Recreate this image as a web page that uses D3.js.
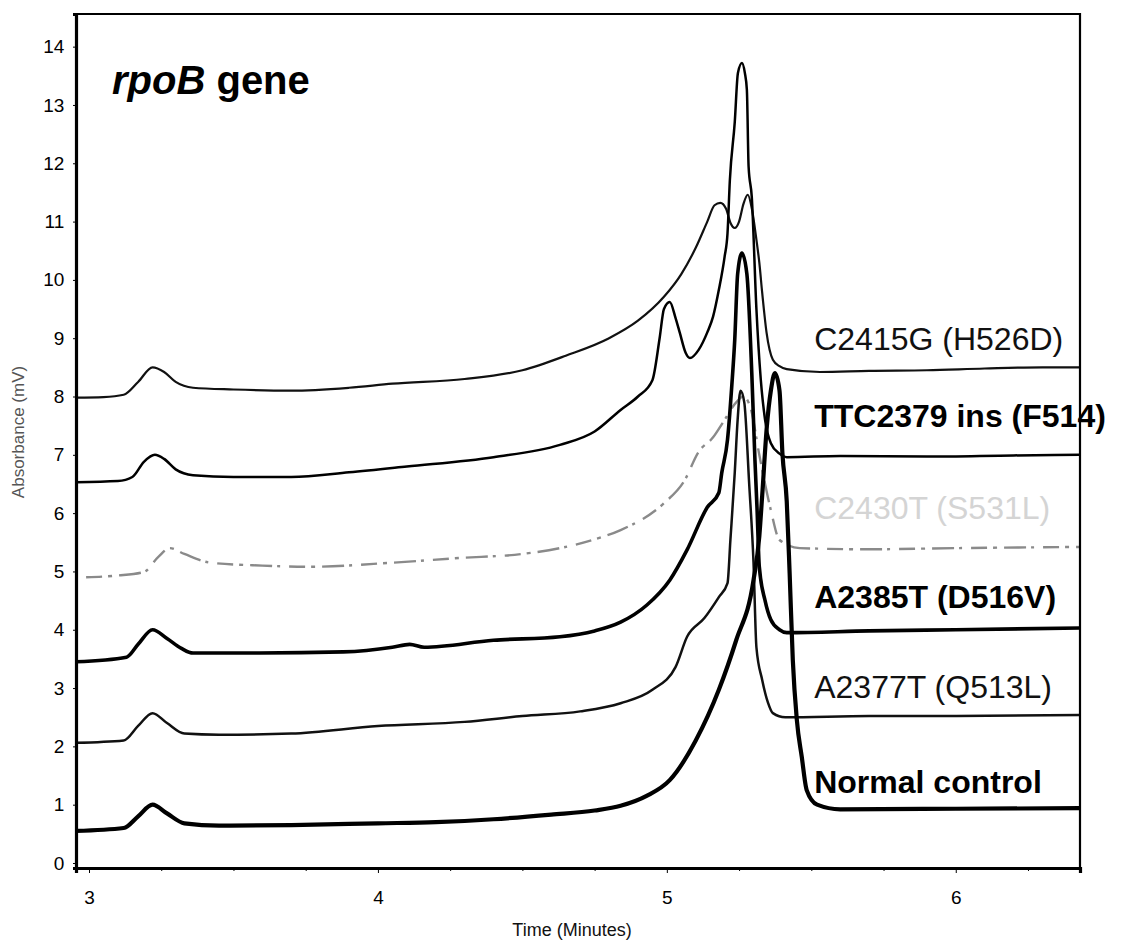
<!DOCTYPE html>
<html>
<head>
<meta charset="utf-8">
<script src="https://cdn.jsdelivr.net/npm/d3@7"></script>
<style>
  body { margin: 0; background: #fff; }
  svg { display: block; font-family: "Liberation Sans", Arial, sans-serif; }
</style>
</head>
<body>
<svg id="chart"></svg>
<script>
// chromatogram traces, [time (min), absorbance (mV)]
var normalControl = [[2.955,0.55],[3.12,0.6],[3.17,0.8],[3.22,1.0],[3.27,0.85],[3.33,0.68],[3.45,0.64],[3.7,0.65],[4.0,0.68],[4.2,0.7],[4.4,0.75],[4.6,0.83],[4.75,0.9],[4.84,0.98],[4.93,1.15],[5.01,1.42],[5.1,2.1],[5.18,2.97],[5.24,3.82],[5.3,4.85],[5.32,5.6],[5.33,6.3],[5.346,7.48],[5.36,8.1],[5.374,8.4],[5.39,8.1],[5.4,7.03],[5.415,6.2],[5.425,4.97],[5.436,3.48],[5.45,2.45],[5.467,1.82],[5.484,1.25],[5.52,1.0],[5.6,0.92],[6.0,0.93],[6.43,0.94]];
var a2377t = [[2.955,2.06],[3.12,2.1],[3.17,2.35],[3.22,2.57],[3.27,2.4],[3.33,2.22],[3.45,2.2],[3.7,2.22],[4.0,2.35],[4.3,2.42],[4.5,2.52],[4.7,2.6],[4.84,2.74],[4.95,2.97],[5.03,3.36],[5.07,3.88],[5.13,4.2],[5.18,4.56],[5.21,4.8],[5.22,5.54],[5.235,6.69],[5.245,7.6],[5.255,8.1],[5.268,7.9],[5.285,6.5],[5.3,5.15],[5.31,3.7],[5.33,3.14],[5.35,2.75],[5.367,2.57],[5.41,2.5],[5.7,2.52],[6.0,2.52],[6.43,2.54]];
var a2385t = [[2.955,3.45],[3.13,3.53],[3.17,3.75],[3.22,4.0],[3.27,3.85],[3.32,3.68],[3.36,3.6],[3.59,3.6],[3.88,3.62],[4.05,3.7],[4.11,3.75],[4.16,3.7],[4.4,3.82],[4.63,3.88],[4.75,3.98],[4.84,4.13],[4.93,4.42],[5.01,4.85],[5.07,5.37],[5.14,6.1],[5.18,6.35],[5.19,6.69],[5.21,7.26],[5.225,8.2],[5.235,8.97],[5.245,10.1],[5.26,10.46],[5.277,10.1],[5.294,8.4],[5.305,6.9],[5.312,6.1],[5.32,5.08],[5.34,4.5],[5.36,4.17],[5.39,4.0],[5.415,3.95],[5.7,3.98],[6.0,4.0],[6.43,4.03]];
var c2430t = [[2.99,4.9],[3.1,4.93],[3.19,4.99],[3.24,5.25],[3.28,5.4],[3.33,5.3],[3.42,5.15],[3.6,5.1],[3.76,5.08],[4.05,5.15],[4.28,5.23],[4.5,5.3],[4.63,5.4],[4.75,5.55],[4.84,5.71],[4.99,6.17],[5.06,6.55],[5.11,7.05],[5.16,7.3],[5.2,7.6],[5.24,7.9],[5.265,8.0],[5.29,7.8],[5.32,7.0],[5.34,6.5],[5.36,6.05],[5.39,5.54],[5.46,5.4],[5.7,5.38],[6.0,5.4],[6.43,5.42]];
var ttc2379 = [[2.955,6.53],[3.1,6.55],[3.15,6.62],[3.19,6.88],[3.228,7.0],[3.26,6.93],[3.3,6.75],[3.36,6.65],[3.5,6.62],[3.7,6.62],[3.9,6.7],[4.1,6.8],[4.4,6.96],[4.63,7.17],[4.75,7.4],[4.84,7.77],[4.9,8.0],[4.95,8.28],[4.975,9.0],[4.99,9.5],[5.01,9.62],[5.03,9.35],[5.045,9.09],[5.065,8.75],[5.08,8.66],[5.11,8.8],[5.14,9.1],[5.16,9.37],[5.18,9.83],[5.2,10.4],[5.21,10.8],[5.218,11.7],[5.235,12.7],[5.246,13.55],[5.26,13.72],[5.27,13.55],[5.277,13.26],[5.283,11.94],[5.294,11.42],[5.31,9.5],[5.325,8.3],[5.34,7.6],[5.36,7.2],[5.39,7.02],[5.415,6.96],[5.6,6.98],[5.9,6.97],[6.2,6.99],[6.43,7.0]];
var c2415g = [[2.955,7.98],[3.05,7.99],[3.12,8.03],[3.17,8.25],[3.22,8.5],[3.26,8.42],[3.3,8.25],[3.36,8.15],[3.5,8.12],[3.7,8.1],[3.9,8.15],[4.05,8.22],[4.3,8.3],[4.5,8.45],[4.65,8.7],[4.8,9.0],[4.9,9.3],[4.99,9.71],[5.05,10.1],[5.1,10.55],[5.14,11.0],[5.165,11.28],[5.185,11.32],[5.205,11.22],[5.22,10.98],[5.235,10.89],[5.25,11.0],[5.265,11.3],[5.28,11.46],[5.295,11.2],[5.31,10.69],[5.32,10.3],[5.33,9.78],[5.345,9.1],[5.367,8.63],[5.39,8.52],[5.415,8.47],[5.53,8.42],[5.7,8.44],[5.9,8.45],[6.1,8.48],[6.3,8.5],[6.43,8.5]];

var traceNames = ['C2415G (H526D)', 'TTC2379 ins (F514)', 'C2430T (S531L)', 'A2385T (D516V)', 'A2377T (Q513L)', 'Normal control'];
var xTicks = [3, 4, 5, 6];
var yTicks = [0, 1, 2, 3, 4, 5, 6, 7, 8, 9, 10, 11, 12, 13, 14];

var svgWidth = 1142, svgHeight = 946;
var margin = {top: 14, right: 62, bottom: 78, left: 76};

var traces = [c2415g, ttc2379, c2430t, a2385t, a2377t, normalControl];
// styling per trace (same order as traceNames)
var strokeW = [2.2, 2.5, 2.4, 3.6, 2.5, 4.2];
var strokeC = ['#111', '#000', '#8a8a8a', '#000', '#111', '#000'];
var labelW = ['normal', 'bold', 'normal', 'bold', 'normal', 'bold'];
var labelC = ['#111', '#000', '#d4d4d4', '#000', '#111', '#000'];
var labelLift = [17, 28, 28, 20, 17, 15];

var svg = d3.select('#chart')
  .attr('width', svgWidth)
  .attr('height', svgHeight);

var x = d3.scaleLinear().domain([2.955, 6.43]).range([margin.left, svgWidth - margin.right]);
var y = d3.scaleLinear().domain([-0.086, 14.56]).range([svgHeight - margin.bottom, margin.top]);

svg.append('clipPath').attr('id', 'plot')
  .append('rect')
  .attr('x', margin.left).attr('y', margin.top)
  .attr('width', x.range()[1] - margin.left)
  .attr('height', y.range()[0] - margin.top);

var line = d3.line()
  .x(d => x(d[0]))
  .y(d => y(d[1]))
  .curve(d3.curveMonotoneX);

svg.append('g')
  .attr('clip-path', 'url(#plot)')
  .selectAll('path')
  .data(traces)
  .enter()
  .append('path')
  .attr('d', line)
  .attr('fill', 'none')
  .attr('stroke', (d, i) => strokeC[i])
  .attr('stroke-width', (d, i) => strokeW[i])
  .attr('stroke-linejoin', 'round')
  .attr('stroke-dasharray', (d, i) => i === 2 ? '16,6,4,7,22,5,3,9' : null);

// trace labels sit just above each trace's right-hand baseline
svg.append('g')
  .selectAll('text')
  .data(traceNames)
  .enter()
  .append('text')
  .attr('x', x(5.51))
  .attr('y', (d, i) => y(traces[i][traces[i].length - 1][1]) - labelLift[i])
  .attr('font-size', 32)
  .attr('font-weight', (d, i) => labelW[i])
  .attr('fill', (d, i) => labelC[i])
  .text(d => d);

// frame: top and right thinner than the axes
svg.append('path')
  .attr('d', `M${x.range()[0]},${margin.top}H${x.range()[1]}V${y.range()[0]}`)
  .attr('fill', 'none')
  .attr('stroke', '#000')
  .attr('stroke-width', 2.2);

var xAxis = svg.append('g')
  .attr('transform', `translate(0,${y.range()[0]})`)
  .call(d3.axisBottom(x).tickValues(xTicks).tickSize(5).tickFormat(d3.format('d')));

svg.append('g')
  .attr('transform', `translate(0,${y.range()[0]})`)
  .call(d3.axisBottom(x).tickValues(d3.range(3.25, 6.3, 0.25).filter(v => v % 1 !== 0)).tickSize(3).tickFormat(''))
  .call(g => g.select('.domain').remove());

var yAxis = svg.append('g')
  .attr('transform', `translate(${margin.left},0)`)
  .call(d3.axisLeft(y).tickValues(yTicks).tickSize(3).tickFormat(d3.format('d')));

[xAxis, yAxis].forEach(g => {
  g.select('.domain').attr('stroke-width', 3.2);
  g.selectAll('text').attr('font-size', 19).attr('fill', '#000');
});
xAxis.selectAll('text').attr('dy', '1.45em');
yAxis.selectAll('text').attr('dx', '-0.3em');

svg.append('text')
  .attr('x', (x.range()[0] + x.range()[1]) / 2 - 6)
  .attr('y', 936)
  .attr('text-anchor', 'middle')
  .attr('font-size', 18)
  .attr('fill', '#111')
  .text('Time (Minutes)');

svg.append('text')
  .attr('transform', 'translate(24,432) rotate(-90)')
  .attr('text-anchor', 'middle')
  .attr('font-size', 17)
  .attr('fill', '#555')
  .text('Absorbance (mV)');

var title = svg.append('text')
  .attr('x', 112)
  .attr('y', 94)
  .attr('font-size', 40)
  .attr('font-weight', 'bold');
title.append('tspan').attr('font-style', 'italic').text('rpoB');
title.append('tspan').text(' gene');
</script>
</body>
</html>
